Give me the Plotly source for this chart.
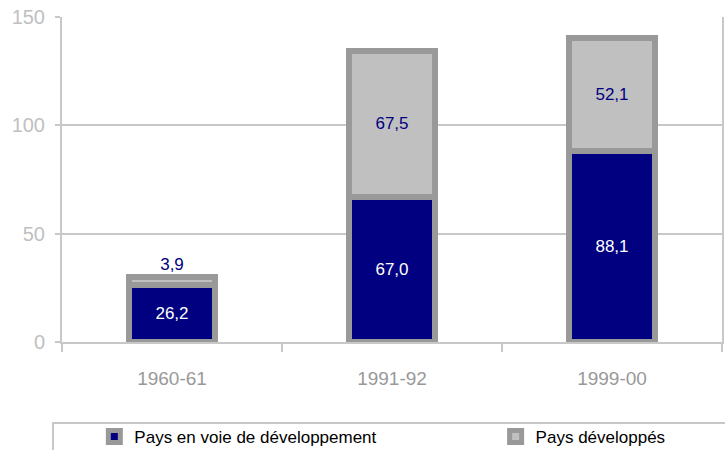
import plotly.graph_objects as go

# Periods and values (millions), two stacked groups of countries
periods = ["1960-61", "1991-92", "1999-00"]
developing = [26.2, 67.0, 88.1]
developed = [3.9, 67.5, 52.1]
name_developing = "Pays en voie de développement"
name_developed = "Pays développés"

FONT = "Liberation Sans, Arial, sans-serif"
NAVY = "#000080"
SILVER = "#C0C0C0"
BORDER = "#999999"
GRID = "#C8C8C8"

fig = go.Figure()

fig.add_trace(go.Bar(
    x=periods, y=developing, name=name_developing,
    marker=dict(color=NAVY, line=dict(color=BORDER, width=6)),
    width=0.395,
    texttemplate="%{y:.1f}", textposition="inside", insidetextanchor="middle",
    textfont=dict(color="white", size=17, family=FONT),
    showlegend=True, legend="legend",
))

# the thin top segment of the first bar gets its label above the bar
top_positions = ["outside" if v < 10 else "inside" for v in developed]
fig.add_trace(go.Bar(
    x=periods, y=developed, name=name_developed,
    marker=dict(color=SILVER, line=dict(color=BORDER, width=6)),
    width=0.395,
    texttemplate="%{y:.1f}", textposition=top_positions, insidetextanchor="middle",
    textfont=dict(color=NAVY, size=17, family=FONT),
    outsidetextfont=dict(color=NAVY, size=17, family=FONT),
    cliponaxis=False,
    showlegend=True, legend="legend2",
))

# frame around the legend area below the chart
fig.add_shape(type="rect", xref="paper", yref="paper",
              x0=-0.0136, x1=1.02, y0=-0.40, y1=-0.249,
              line=dict(color=GRID, width=2), fillcolor="rgba(0,0,0,0)", layer="below")

legend_style = dict(orientation="h", yanchor="middle", y=-0.292, xanchor="left",
                    font=dict(size=17, color="#000000", family=FONT),
                    bgcolor="rgba(0,0,0,0)", borderwidth=0, itemwidth=30)

fig.update_layout(
    width=725, height=450,
    margin=dict(l=62, r=3, t=17, b=108, autoexpand=False),
    barmode="stack",
    separators=", ",
    showlegend=True,
    plot_bgcolor="white", paper_bgcolor="white",
    font=dict(family=FONT, color="#000000"),
    legend=dict(x=0.049, **legend_style),
    legend2=dict(x=0.657, **legend_style),
    xaxis=dict(
        showline=True, linecolor=GRID, linewidth=2,
        ticks="outside", tickson="boundaries", ticklen=8, tickcolor=GRID, tickwidth=2,
        tickfont=dict(size=19, color="#999999", family=FONT),
        ticklabelstandoff=18, automargin=False,
        showgrid=False,
    ),
    yaxis=dict(
        range=[0, 150], tickvals=[0, 50, 100, 150],
        showline=True, linecolor=GRID, linewidth=2, mirror=True,
        ticks="outside", ticklen=5, tickcolor=GRID, tickwidth=2,
        tickfont=dict(size=20, color="#BFBFBF", family=FONT),
        ticklabelstandoff=6, automargin=False,
        showgrid=True, gridcolor=GRID, gridwidth=2,
        zeroline=False,
    ),
)

fig.write_html("out.html")
